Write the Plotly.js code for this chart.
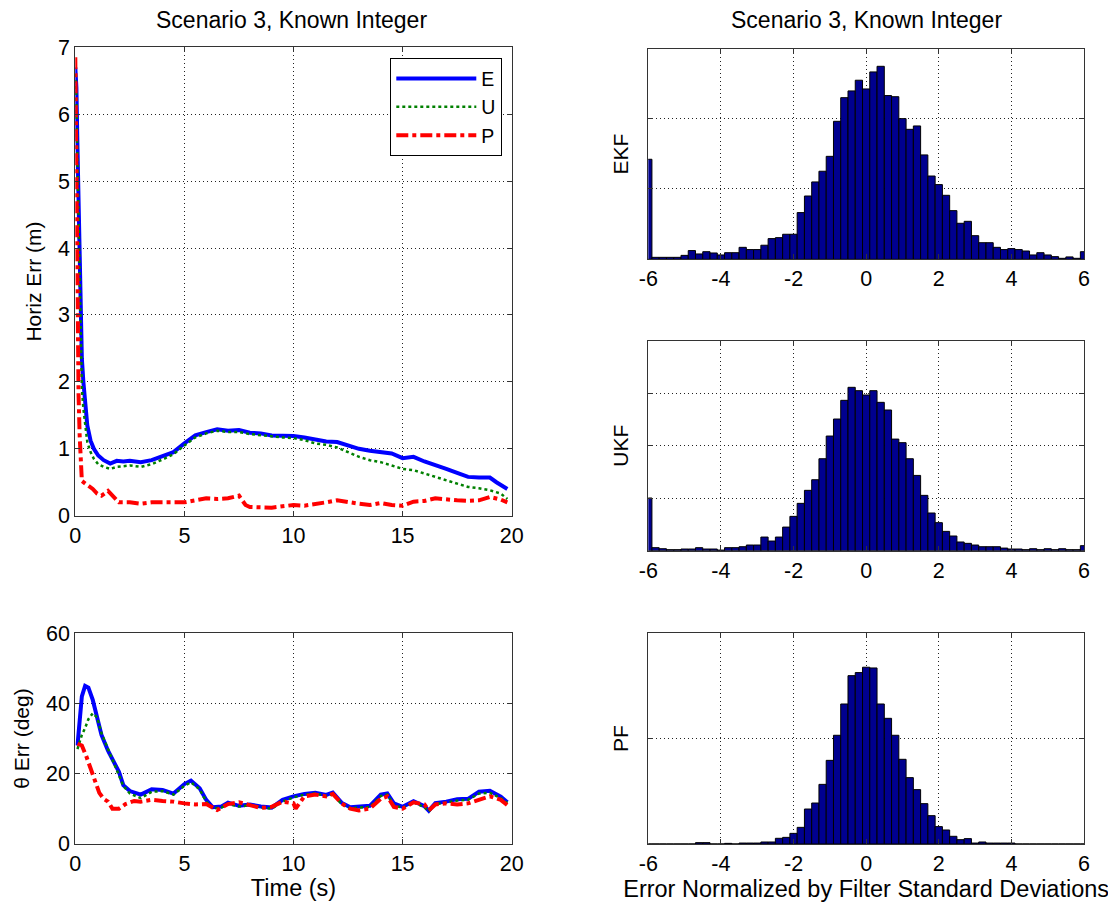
<!DOCTYPE html>
<html>
<head>
<meta charset="utf-8">
<script src="https://cdn.plot.ly/plotly-3.0.1.min.js"></script>
<style>html,body{margin:0;padding:0;background:#fff;}#chart{width:1108px;height:903px;}</style>
</head>
<body>
<div id="chart"></div>
<script>
// ---- Horizontal error (m) ----
const tHorizE = [0,0.05,0.1,0.15,0.2,0.25,0.3,0.37,0.45,0.55,0.7,0.85,1.05,1.3,1.6,1.9,2.2,2.5,3.0,3.5,4.0,4.5,5.0,5.5,6.0,6.5,7.0,7.5,8.0,8.5,9.0,9.5,10.0,10.5,11.0,11.5,12.0,12.5,13.0,13.5,14.0,14.5,15.0,15.5,16.0,16.5,17.0,17.5,18.0,18.5,19.0,19.3,19.8];
const horizE  = [6.7,6.4,5.5,4.6,3.7,2.9,2.35,2.0,1.65,1.35,1.12,1.0,0.9,0.83,0.78,0.82,0.81,0.82,0.8,0.83,0.89,0.95,1.08,1.2,1.25,1.29,1.27,1.28,1.24,1.23,1.2,1.2,1.19,1.17,1.14,1.11,1.1,1.05,1.0,0.97,0.95,0.93,0.86,0.88,0.81,0.76,0.7,0.64,0.58,0.57,0.57,0.5,0.4];
const tHorizU = [0,0.05,0.1,0.15,0.2,0.25,0.3,0.37,0.45,0.55,0.7,0.85,1.05,1.3,1.6,1.9,2.2,2.5,3.0,3.5,4.0,4.5,5.0,5.5,6.0,6.5,7.0,7.5,8.0,8.5,9.0,9.5,10.0,10.5,11.0,11.5,12.0,12.5,13.0,13.5,14.0,14.5,15.0,15.5,16.0,16.5,17.0,17.5,18.0,18.5,19.0,19.5,19.8];
const horizU  = [6.6,6.2,5.3,4.4,3.5,2.6,1.9,1.6,1.35,1.1,0.95,0.85,0.77,0.73,0.7,0.73,0.74,0.75,0.73,0.77,0.84,0.92,1.05,1.17,1.23,1.27,1.25,1.25,1.22,1.2,1.18,1.17,1.16,1.13,1.08,1.06,1.02,0.95,0.88,0.83,0.8,0.75,0.7,0.68,0.63,0.57,0.52,0.48,0.43,0.41,0.38,0.33,0.25];
const tHorizP = [0,0.03,0.06,0.1,0.15,0.2,0.25,0.3,0.5,0.8,1.0,1.2,1.5,1.7,2.0,2.5,3.0,3.5,4.0,4.5,5.0,5.5,6.0,6.5,7.0,7.5,7.8,8.0,8.5,9.0,9.5,10.0,10.5,11.0,11.5,12.0,12.5,13.0,13.5,14.0,14.5,15.0,15.5,16.0,16.5,17.0,17.5,18.0,18.5,19.0,19.5,19.8];
const horizP  = [6.85,5.5,3.8,2.6,1.8,1.2,0.6,0.52,0.47,0.4,0.33,0.3,0.37,0.3,0.2,0.2,0.18,0.2,0.2,0.2,0.2,0.23,0.26,0.25,0.26,0.3,0.16,0.13,0.13,0.12,0.14,0.16,0.15,0.17,0.2,0.23,0.2,0.18,0.16,0.19,0.16,0.15,0.21,0.22,0.26,0.24,0.23,0.22,0.23,0.28,0.24,0.2];

// ---- Heading error (deg) ----
const tThetaEU = [0.1,0.2,0.3,0.45,0.6,0.8,1.0,1.2,1.5,1.8,2.0,2.2,2.5,3.0,3.5,4.0,4.5,5.0,5.3,5.7,6.0,6.3,6.7,7.0,7.5,8.0,8.5,9.0,9.5,10.0,10.5,11.0,11.5,11.8,12.2,12.6,13.0,13.5,14.0,14.3,14.6,15.0,15.5,16.0,16.2,16.5,17.0,17.5,18.0,18.5,19.0,19.5,19.8];
const thetaE = [28,35,42,45,44.5,41,36.5,31,26.5,23,20.5,16.7,15,14,15.5,15.3,14.3,17,18,15.8,12.5,10.4,10.6,11.7,10.8,11.2,10.6,10.3,12.5,13.5,14.2,14.5,13.9,14.6,11.7,10.4,10.6,10.8,14,14.3,11.5,10.5,12.1,10.7,9.4,11.6,12,12.7,12.8,14.8,15.1,13.4,11.8];
const thetaU = [27,29,31,33,35.5,37.2,36,31.5,27,23,20,16.5,14.3,13,14.8,15,14,16.5,17.5,15.5,12,10,10.3,11.3,10.6,11,10.3,10,12,13.2,14,14.3,13.6,14.2,11.3,10.1,10.3,10.5,13.6,14,11,10.2,11.8,10.4,9.2,11.3,11.7,12.3,12.5,14.3,14.5,13,11.6];
const tThetaP = [0.1,0.3,0.5,0.7,0.9,1.1,1.3,1.5,1.7,2.0,2.3,2.7,3.0,3.5,4.0,4.5,5.0,5.5,6.0,6.5,7.0,7.5,8.0,8.5,9.0,9.5,10.0,10.1,10.5,11.0,11.5,11.8,12.2,12.6,13.0,13.5,14.0,14.3,14.6,15.0,15.5,16.0,16.2,16.5,17.0,17.5,18.0,18.5,19.0,19.5,19.8];
const thetaP = [28.5,28,25,21.5,17.5,14.5,12.8,12,10,10,11.3,12.2,12,12.5,12.2,12,11.5,11.2,11.3,9.6,11.3,11.8,11,10.2,10.5,12,11.5,10,13.5,14,13.5,14.2,11.5,10,9.5,10,12.8,13.5,10.5,10,11.8,11.2,9.5,11.2,11.5,11.2,11.5,12.5,13.5,12.5,11];

// ---- Histograms (bin centres -6:0.2:6) ----
const binCenters = [-6,-5.8,-5.6,-5.4,-5.2,-5,-4.8,-4.6,-4.4,-4.2,-4,-3.8,-3.6,-3.4,-3.2,-3,-2.8,-2.6,-2.4,-2.2,-2,-1.8,-1.6,-1.4,-1.2,-1,-0.8,-0.6,-0.4,-0.2,0,0.2,0.4,0.6,0.8,1,1.2,1.4,1.6,1.8,2,2.2,2.4,2.6,2.8,3,3.2,3.4,3.6,3.8,4,4.2,4.4,4.6,4.8,5,5.2,5.4,5.6,5.8,6];
const ekfCounts = [711,14,14,14,14,28,62,38,54,45,31,47,47,85,69,69,100,147,154,178,178,332,450,550,626,732,981,1149,1197,1273,1211,1332,1372,1164,1156,1000,924,948,742,592,531,455,346,256,270,168,118,118,85,69,76,69,59,31,47,31,19,7,17,7,54];
const ukfCounts = [502,29,19,10,10,16,16,29,16,16,6,29,29,38,54,54,130,92,130,225,327,451,575,676,876,1092,1254,1432,1556,1524,1483,1524,1413,1340,1063,1029,876,717,527,359,267,184,140,83,70,54,38,38,38,25,16,16,10,19,10,19,10,19,10,10,48];
const pfCounts  = [0,0,0,0,0,0,0,13,13,0,0,6,0,9,9,9,19,19,54,63,101,158,332,389,566,794,1032,1329,1598,1627,1678,1671,1329,1193,1032,804,630,516,383,269,165,133,73,41,51,9,19,9,9,9,9,0,0,0,0,0,0,0,0,0,0];

const histTickVals = [-6,-4,-2,0,2,4,6];
const histTickText = ['-6','-4','-2','0','2','4','6'];
const titleText = 'Scenario 3, Known Integer';
const histLabels = ['EKF','UKF','PF'];
const seriesNames = ['E','U','P'];

const FONT = 'Liberation Sans, Arial, Helvetica, sans-serif';
const W = 1108, H = 903;
const px = v => v / W;
const py = v => 1 - v / H;

const lineBlue = {color:'#0000FF', width:4, dash:'solid'};
const lineGreen = {color:'#008000', width:2.5, dash:'dot'};
const lineRed = {color:'#FF0000', width:4, dash:'dashdot'};

const traces = [
  {x:tHorizE, y:horizE, name:seriesNames[0], type:'scatter', mode:'lines', line:lineBlue, xaxis:'x', yaxis:'y'},
  {x:tHorizU, y:horizU, name:seriesNames[1], type:'scatter', mode:'lines', line:lineGreen, xaxis:'x', yaxis:'y'},
  {x:tHorizP, y:horizP, name:seriesNames[2], type:'scatter', mode:'lines', line:lineRed, xaxis:'x', yaxis:'y'},
  {x:tThetaEU, y:thetaE, showlegend:false, type:'scatter', mode:'lines', line:lineBlue, xaxis:'x2', yaxis:'y2'},
  {x:tThetaEU, y:thetaU, showlegend:false, type:'scatter', mode:'lines', line:lineGreen, xaxis:'x2', yaxis:'y2'},
  {x:tThetaP, y:thetaP, showlegend:false, type:'scatter', mode:'lines', line:lineRed, xaxis:'x2', yaxis:'y2'},
];
const hists = [ekfCounts, ukfCounts, pfCounts];
hists.forEach((c,i) => {
  traces.push({x:binCenters, y:c, type:'bar', width:0.2, showlegend:false,
    marker:{color:'#00008F', line:{color:'#000000', width:1}},
    xaxis:'x'+(i+3), yaxis:'y'+(i+3)});
});

const TICK = 21.5, YT = 21, XT = 23.5;
const common = {
  showline:true, linecolor:'#333', linewidth:1, mirror:'allticks',
  ticks:'inside', ticklen:5, tickcolor:'#333',
  showgrid:true, gridcolor:'#222', griddash:'1px,3px', gridwidth:1,
  zeroline:false, tickfont:{family:FONT, size:TICK, color:'#000'},
  automargin:false, fixedrange:true
};
const ax = (o) => Object.assign({}, common, o);

const leftX = [px(75.3), px(511.7)];
const rightX = [px(648.3), px(1084)];

const layout = {
  width:W, height:H,
  margin:{l:0, r:0, t:0, b:0},
  paper_bgcolor:'#fff', plot_bgcolor:'#fff',
  font:{family:FONT, size:20, color:'#000'},
  bargap:0,
  showlegend:true,
  legend:{x:px(502.3), y:py(58.3), xanchor:'right', yanchor:'top',
    bgcolor:'#fff', bordercolor:'#000', borderwidth:1,
    font:{family:FONT, size:19.5, color:'#000'}, itemwidth:80, tracegroupgap:0},
  xaxis: ax({domain:leftX, anchor:'y', range:[0,20], dtick:5, tick0:0}),
  yaxis: ax({domain:[py(515.7), py(47.3)], anchor:'x', range:[0,7], dtick:1, tick0:0,
    title:{text:'Horiz Err (m)', font:{family:FONT, size:YT}, standoff:10}}),
  xaxis2: ax({domain:leftX, anchor:'y2', range:[0,20], dtick:5, tick0:0,
    title:{text:'Time (s)', font:{family:FONT, size:XT}, standoff:3}}),
  yaxis2: ax({domain:[py(843.7), py(633.3)], anchor:'x2', range:[0,60], dtick:20, tick0:0,
    title:{text:'θ Err (deg)', font:{family:FONT, size:YT}, standoff:10}}),
  xaxis3: ax({domain:rightX, anchor:'y3', range:[-6,6], tickvals:histTickVals, ticktext:histTickText}),
  yaxis3: ax({domain:[py(259.3), py(49)], anchor:'x3', range:[0,1495], dtick:500, tick0:0, showticklabels:false,
    title:{text:histLabels[0], font:{family:FONT, size:YT}, standoff:12}}),
  xaxis4: ax({domain:rightX, anchor:'y4', range:[-6,6], tickvals:histTickVals, ticktext:histTickText}),
  yaxis4: ax({domain:[py(550.7), py(340.7)], anchor:'x4', range:[0,2000], dtick:500, tick0:0, showticklabels:false,
    title:{text:histLabels[1], font:{family:FONT, size:YT}, standoff:12}}),
  xaxis5: ax({domain:rightX, anchor:'y5', range:[-6,6], tickvals:histTickVals, ticktext:histTickText,
    title:{text:'Error Normalized by Filter Standard Deviations', font:{family:FONT, size:XT}, standoff:3}}),
  yaxis5: ax({domain:[py(844), py(633.3)], anchor:'x5', range:[0,2000], dtick:1000, tick0:0, showticklabels:false,
    title:{text:histLabels[2], font:{family:FONT, size:YT}, standoff:12}}),
  annotations:[
    {text:titleText, xref:'paper', yref:'paper', x:px(291.5), y:py(20), xanchor:'center', yanchor:'middle', showarrow:false, font:{family:FONT, size:23, color:'#000'}},
    {text:titleText, xref:'paper', yref:'paper', x:px(866.2), y:py(20), xanchor:'center', yanchor:'middle', showarrow:false, font:{family:FONT, size:23, color:'#000'}}
  ]
};

Plotly.newPlot('chart', traces, layout, {staticPlot:true, displayModeBar:false});
</script>
</body>
</html>
